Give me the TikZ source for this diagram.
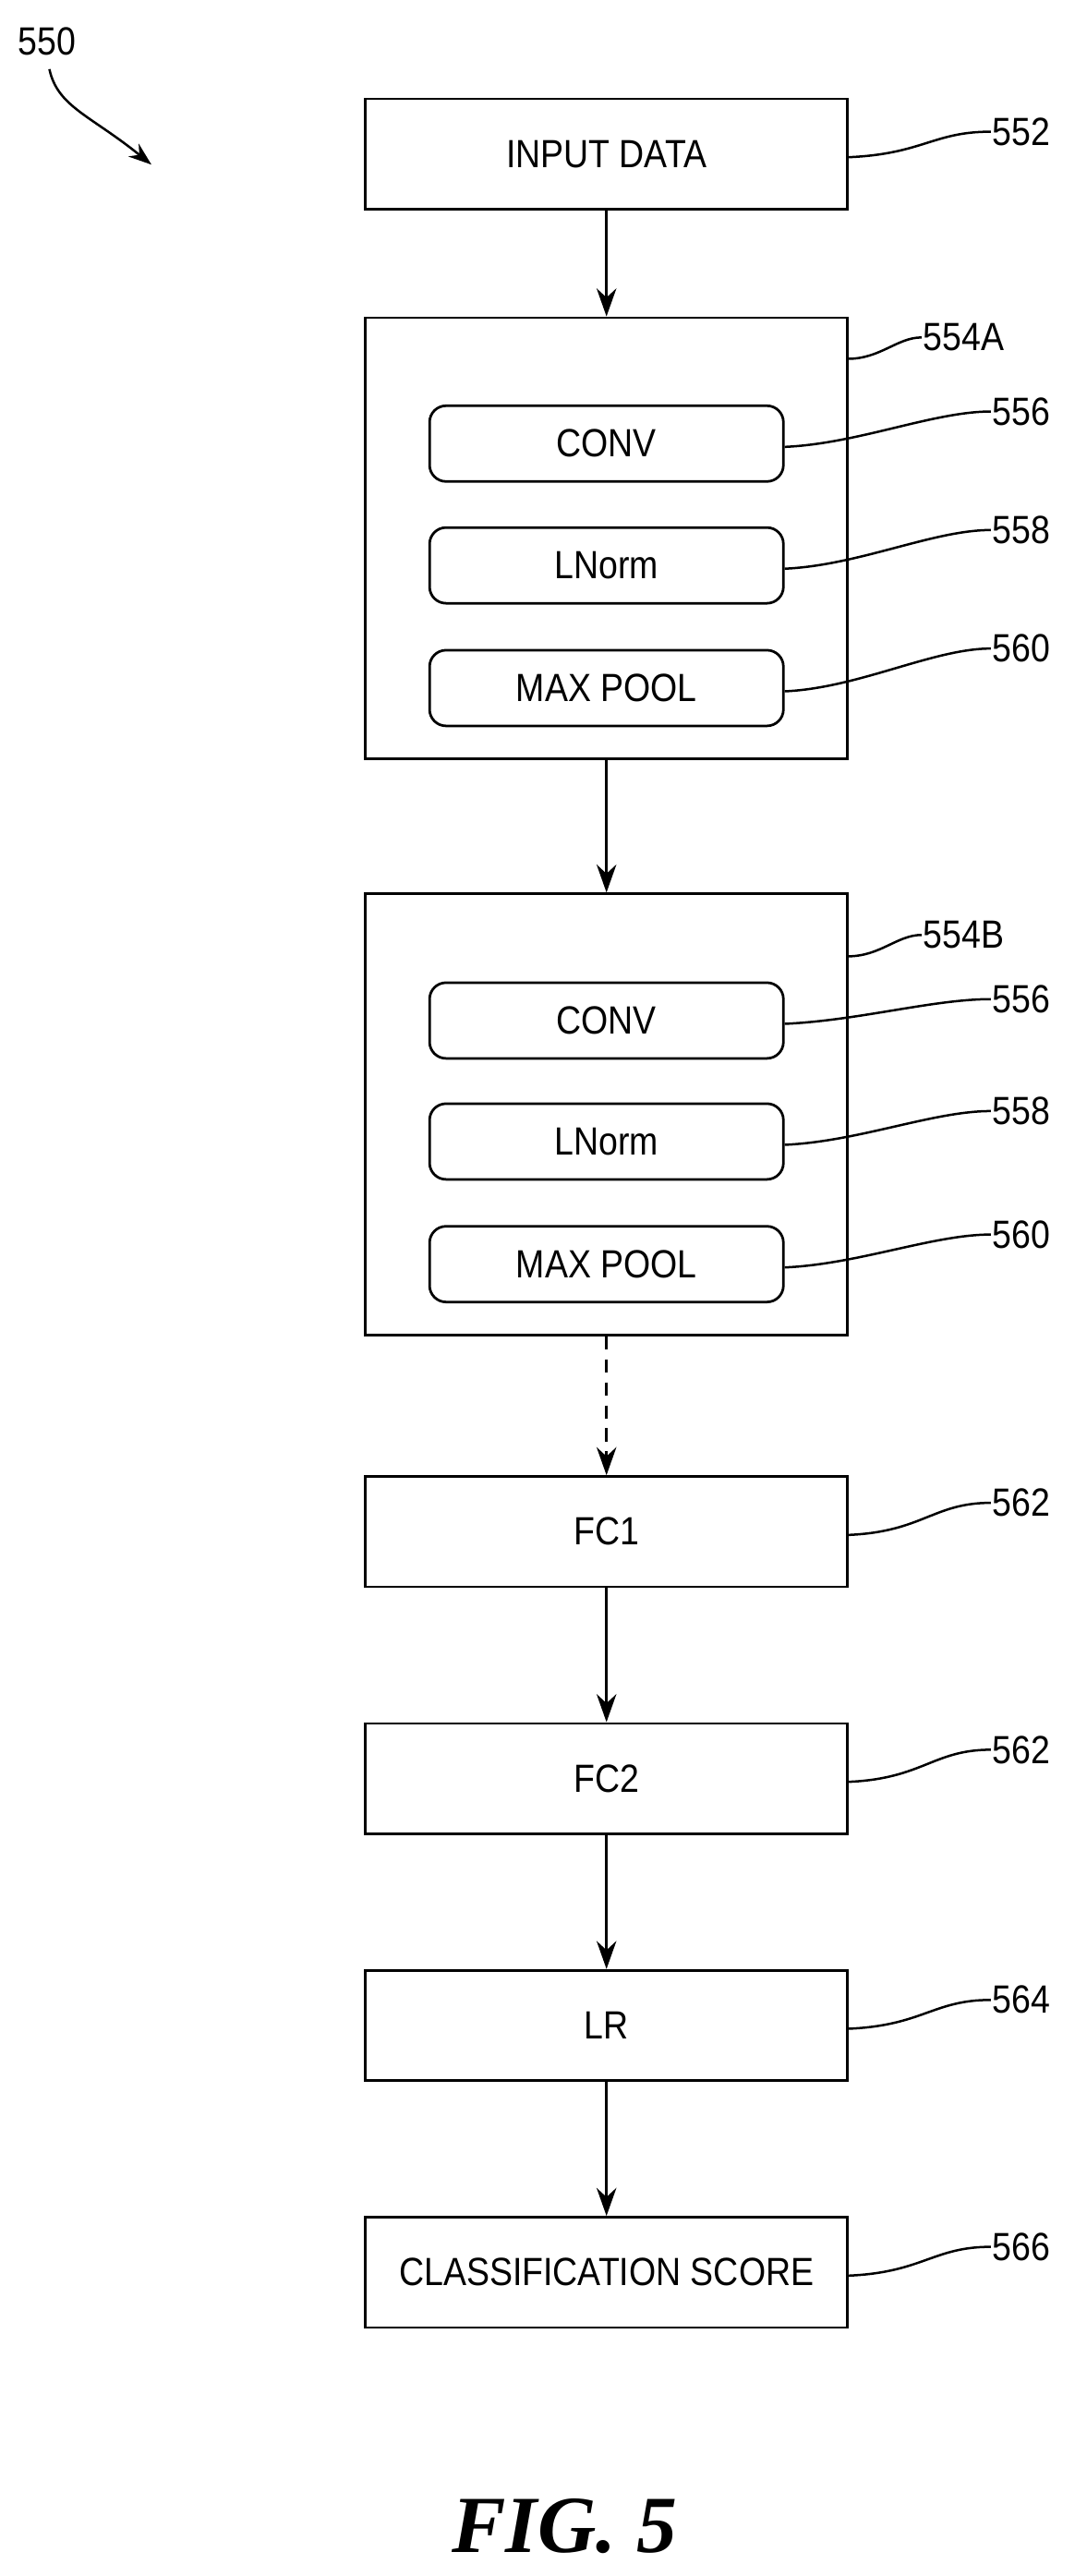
\documentclass[tikz,border=0pt]{standalone}
\usepackage{fontspec}
\setmainfont{Liberation Sans}[FakeStretch=0.88]
\newfontfamily\figfont{Liberation Serif}
\usetikzlibrary{arrows.meta}
\begin{document}
\begin{tikzpicture}[x=0.05cm,y=-0.05cm,
  txt/.style={font=\fontsize{34}{38}\selectfont},
  box/.style={draw,line width=2.2pt,minimum width=14.65cm,minimum height=3.35cm,txt,inner sep=0pt},
  inner/.style={draw,line width=2.2pt,rounded corners=0.5cm,minimum width=10.75cm,minimum height=2.3cm,txt,inner sep=0pt},
  outer/.style={draw,line width=2.2pt,minimum width=14.65cm,minimum height=13.4cm,inner sep=0pt},
  lbl/.style={txt,anchor=west,inner sep=1pt},
  lead/.style={line width=2pt},
  arr/.style={line width=2.2pt,-{Stealth[length=0.85cm,width=0.6cm]}}]
\useasboundingbox (0,0) rectangle (660,1565);
\node[box] (in) at (368.5,93.5) {INPUT DATA};
\node[outer] (A) at (368.5,327) {};
\node[inner] (a1) at (368.5,269.5) {CONV};
\node[inner] (a2) at (368.5,343.5) {LNorm};
\node[inner] (a3) at (368.5,418) {MAX POOL};
\node[outer] (B) at (368.5,677) {};
\node[inner] (b1) at (368.5,620) {CONV};
\node[inner] (b2) at (368.5,693.5) {LNorm};
\node[inner] (b3) at (368.5,768) {MAX POOL};
\node[box] (fc1) at (368.5,930.5) {FC1};
\node[box] (fc2) at (368.5,1080.5) {FC2};
\node[box] (lr) at (368.5,1230.5) {LR};
\node[box] (cs) at (368.5,1380.5) {CLASSIFICATION SCORE};
\draw[arr] (in) -- (A);
\draw[arr] (A) -- (B);
\draw[arr,dashed,dash pattern=on 0.4cm off 0.3cm] (B) -- (fc1);
\draw[arr] (fc1) -- (fc2);
\draw[arr] (fc2) -- (lr);
\draw[arr] (lr) -- (cs);
\node[lbl] (l552) at (602,80) {552};
\node[lbl] (l554a) at (560,205) {554A};
\node[lbl] (l556a) at (602,250) {556};
\node[lbl] (l558a) at (602,322) {558};
\node[lbl] (l560a) at (602,394) {560};
\node[lbl] (l554b) at (560,568) {554B};
\node[lbl] (l556b) at (602,607) {556};
\node[lbl] (l558b) at (602,675) {558};
\node[lbl] (l560b) at (602,750) {560};
\node[lbl] (l562a) at (602,913) {562};
\node[lbl] (l562b) at (602,1063) {562};
\node[lbl] (l564) at (602,1215) {564};
\node[lbl] (l566) at (602,1365) {566};
\node[lbl] (l550) at (10,25) {550};
\coordinate (A1) at (515,218);
\coordinate (B1) at (515,581);
\foreach \s/\t in {in/l552,a1/l556a,a2/l558a,a3/l560a,b1/l556b,b2/l558b,b3/l560b,fc1/l562a,fc2/l562b,lr/l564,cs/l566}
  \draw[lead] ([yshift=-0.1cm]\s.east) .. controls +(45,-2) and +(-35,0) .. (\t.west);
\draw[lead] (A1) .. controls +(20,0) and +(-15,0) .. (l554a.west);
\draw[lead] (B1) .. controls +(20,0) and +(-15,0) .. (l554b.west);
\coordinate (p550) at (92,100);
\draw[line width=2pt,-{Stealth[length=0.7cm,width=0.5cm]}] (30,42) .. controls (35,65) and (55,70) .. (p550);
\node[font=\figfont\fontsize{70}{76}\selectfont\bfseries\itshape] (fig) at (343,1535) {FIG. 5};
\end{tikzpicture}
\end{document}
